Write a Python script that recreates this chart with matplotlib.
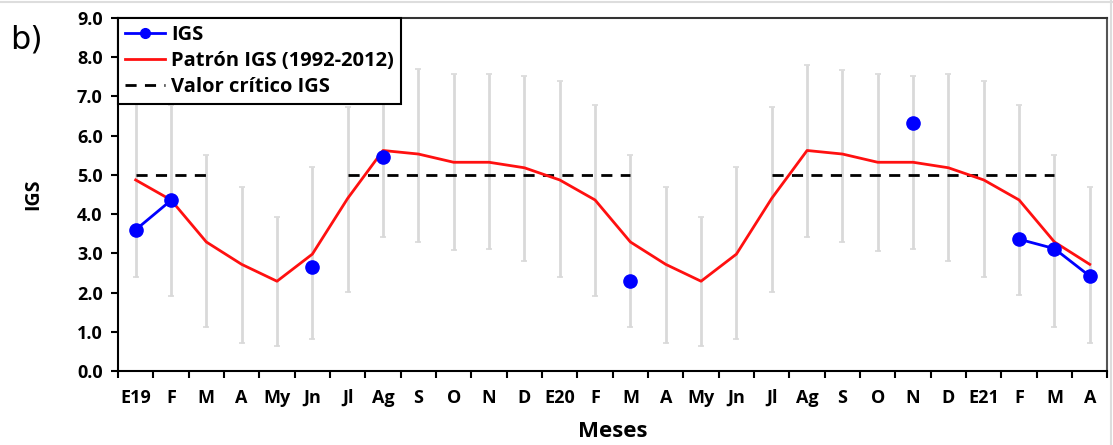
import numpy as np
import matplotlib.pyplot as plt
from matplotlib.lines import Line2D

# %% Data ---------------------------------------------------------------------

meses = ['E19', 'F', 'M', 'A', 'My', 'Jn', 'Jl', 'Ag', 'S', 'O', 'N', 'D',
         'E20', 'F', 'M', 'A', 'My', 'Jn', 'Jl', 'Ag', 'S', 'O', 'N', 'D',
         'E21', 'F', 'M', 'A']

nan = np.nan

# observed IGS (gaps where no value)
igs = [3.60, 4.35, nan, nan, nan, 2.66, nan, 5.45, nan, nan, nan, nan,
       nan, nan, 2.30, nan, nan, nan, nan, nan, nan, nan, 6.32, nan,
       nan, 3.36, 3.12, 2.42]

# pattern 1992-2012
patron = [4.87, 4.36, 3.29, 2.72, 2.29, 2.98, 4.40, 5.62, 5.53, 5.32, 5.32, 5.18,
          4.87, 4.36, 3.29, 2.72, 2.29, 2.98, 4.40, 5.62, 5.53, 5.32, 5.32, 5.18,
          4.87, 4.36, 3.29, 2.72]

# spread of the pattern (lower / upper limits)
lim_inf = [2.40, 1.92, 1.13, 0.71, 0.63, 0.82, 2.02, 3.42, 3.30, 3.08, 3.10, 2.80,
           2.40, 1.92, 1.13, 0.71, 0.63, 0.82, 2.02, 3.42, 3.30, 3.05, 3.10, 2.80,
           2.40, 1.95, 1.12, 0.71]
lim_sup = [7.40, 6.77, 5.50, 4.70, 3.92, 5.19, 6.74, 7.80, 7.70, 7.58, 7.56, 7.53,
           7.38, 6.77, 5.50, 4.70, 3.92, 5.19, 6.74, 7.80, 7.68, 7.58, 7.53, 7.58,
           7.40, 6.78, 5.50, 4.69]

# critical value (only drawn from Jl to M)
critico = [5.0, 5.0, 5.0, nan, nan, nan, 5.0, 5.0, 5.0, 5.0, 5.0, 5.0,
           5.0, 5.0, 5.0, nan, nan, nan, 5.0, 5.0, 5.0, 5.0, 5.0, 5.0,
           5.0, 5.0, 5.0, nan]

# %% Plot ---------------------------------------------------------------------

plt.rcParams['font.family'] = ['Open Sans', 'DejaVu Sans']

x = np.arange(len(meses))
patron = np.array(patron)

fig = plt.figure(figsize=(11.13, 4.45), dpi=100)
ax = fig.add_axes([0.106, 0.166, 0.889, 0.794])

# error bars
ax.errorbar(x, patron,
            yerr=[patron - np.array(lim_inf), np.array(lim_sup) - patron],
            fmt='none', ecolor='#d9d9d9', elinewidth=2, capsize=2.5,
            capthick=1.2, zorder=1)

ax.plot(x, critico, color='black', lw=2, ls=(0, (4, 3)), zorder=2)
ax.plot(x, patron, color='#ff1010', lw=2, zorder=3)
ax.plot(x, igs, color='blue', lw=2, marker='o', ms=9.5, zorder=4)

ax.set_xlim(-0.5, len(meses) - 0.5)
ax.set_ylim(0, 9)
ax.set_yticks(np.arange(0, 9.1, 1))
ax.set_yticklabels([f'{v:.1f}' for v in np.arange(0, 9.1, 1)])
ax.set_xticks(x)
ax.set_xticklabels(meses)
ax.set_xticks(np.arange(-0.5, len(meses), 1), minor=True)
ax.tick_params(axis='x', which='major', length=0, pad=13)
ax.tick_params(axis='x', which='minor', length=5, width=1.5)
ax.tick_params(axis='y', length=5, width=1.5, pad=6)
for lab in ax.get_xticklabels() + ax.get_yticklabels():
    lab.set_fontsize(13)
    lab.set_fontweight('bold')

for s in ax.spines.values():
    s.set_linewidth(1.5)
ax.spines['top'].set_color('#333333')
ax.spines['right'].set_color('#555555')

ax.set_ylabel('IGS', fontsize=14, fontweight='bold', labelpad=24)
ax.set_xlabel('Meses', fontsize=16, fontweight='bold', labelpad=10)

handles = [Line2D([], [], color='blue', lw=2, marker='o', ms=7),
           Line2D([], [], color='#ff1010', lw=2),
           Line2D([], [], color='black', lw=2, ls=(0, (4, 3)))]
leg = ax.legend(handles, ['IGS', 'Patrón IGS (1992-2012)', 'Valor crítico IGS'],
                loc='upper left', bbox_to_anchor=(0, 1), borderaxespad=0,
                fancybox=False, edgecolor='black', framealpha=1,
                handlelength=2.0, handletextpad=0.3, labelspacing=0.3,
                borderpad=0.35, prop={'weight': 'bold', 'size': 14.5})
leg.get_frame().set_linewidth(1.5)

fig.text(0.009, 0.89, 'b)', fontsize=23, family='DejaVu Sans')

# thin grey border of the original picture
fig.add_artist(Line2D([0, 1], [0.995, 0.995], color='#dddddd', lw=1.5))
fig.add_artist(Line2D([0.998, 0.998], [0, 1], color='#dddddd', lw=1.5))

fig.savefig('out.png', dpi=100)
